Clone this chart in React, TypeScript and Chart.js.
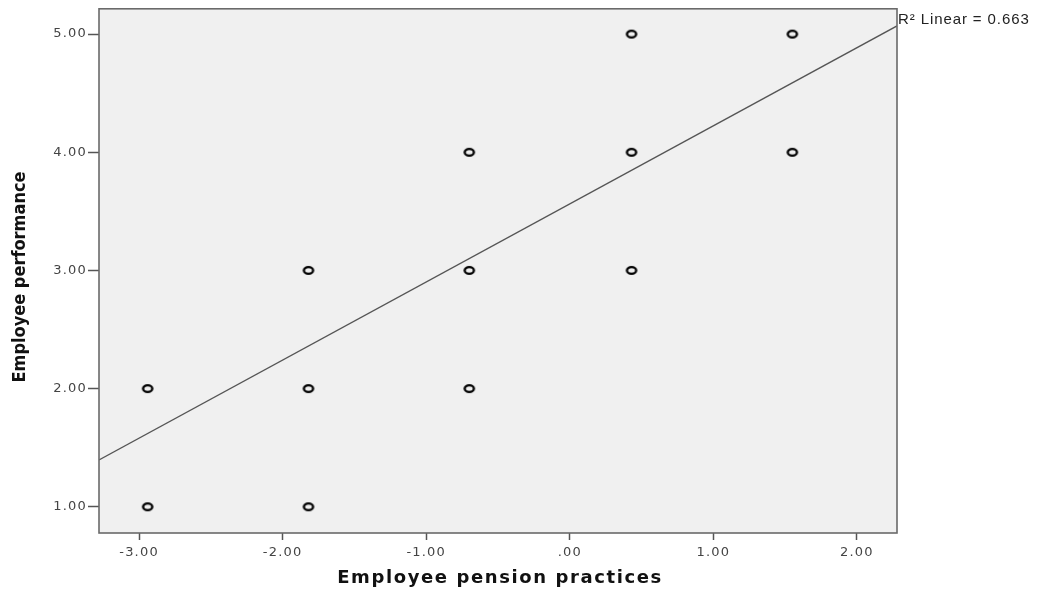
import React, { useEffect, useRef } from "react";
import { Chart, registerables } from "chart.js";

Chart.register(...registerables);

// Data (standardized pension practice score vs performance rating)
const pensionX: number[] = [-2.94, -2.94, -1.82, -1.82, -1.82, -0.70, -0.70, -0.70, 0.43, 0.43, 0.43, 1.55, 1.55];
const performanceY: number[] = [2, 1, 3, 2, 1, 4, 3, 2, 5, 4, 3, 5, 4];
const xTicks: number[] = [-3, -2, -1, 0, 1, 2];
const yTicks: number[] = [1, 2, 3, 4, 5];
const X_MIN = -3.279;
const X_MAX = 2.279;
const Y_MIN = 0.778;
const Y_MAX = 5.214;
const FIT_INTERCEPT = 3.563;
const FIT_SLOPE = 0.661;
const R2_LABEL = "R² Linear = 0.663";
const X_TITLE = "Employee pension practices";
const Y_TITLE = "Employee performance";

function fmt(v: number): string {
  const s = Math.abs(v).toFixed(2);
  const t = s.startsWith("0") ? s.slice(1) : s;
  return (v < 0 ? "-" : "") + t;
}

function makeMarker(): HTMLCanvasElement {
  const c = document.createElement("canvas");
  c.width = 14;
  c.height = 11;
  const ctx = c.getContext("2d")!;
  ctx.strokeStyle = "#000";
  ctx.lineWidth = 2.4;
  ctx.beginPath();
  ctx.ellipse(7, 5.5, 4.6, 3.4, 0, 0, Math.PI * 2);
  ctx.stroke();
  return c;
}

export default function App() {
  const ref = useRef<HTMLCanvasElement | null>(null);

  useEffect(() => {
    if (!ref.current) return;
    const marker = makeMarker();
    const points = pensionX.map((x, i) => ({ x, y: performanceY[i] }));
    const fitLine = [
      { x: X_MIN, y: FIT_INTERCEPT + FIT_SLOPE * X_MIN },
      { x: X_MAX, y: FIT_INTERCEPT + FIT_SLOPE * X_MAX },
    ];

    const decor = {
      id: "decor",
      beforeDraw(chart: any) {
        (chart.ctx as any).letterSpacing = "1.2px";
      },
      beforeDatasetsDraw(chart: any) {
        const { ctx, chartArea: a } = chart;
        ctx.save();
        ctx.fillStyle = "#f0f0f0";
        ctx.fillRect(a.left, a.top, a.right - a.left, a.bottom - a.top);
        ctx.restore();
      },
      afterDraw(chart: any) {
        const { ctx, chartArea: a } = chart;
        ctx.save();
        ctx.strokeStyle = "#6a6a6a";
        ctx.lineWidth = 1.6;
        ctx.strokeRect(a.left, a.top, a.right - a.left, a.bottom - a.top);

        // R² label
        ctx.fillStyle = "#222";
        ctx.font = "15px 'Liberation Sans', Arial, sans-serif";
        (ctx as any).letterSpacing = "0.9px";
        ctx.textAlign = "left";
        ctx.textBaseline = "middle";
        ctx.fillText(R2_LABEL, a.right + 1, 20);

        // X title
        ctx.font = "bold 18px 'DejaVu Sans', Verdana, sans-serif";
        (ctx as any).letterSpacing = "1.6px";
        ctx.textAlign = "center";
        ctx.fillStyle = "#111";
        ctx.fillText(X_TITLE, 500, 578);

        // Y title
        (ctx as any).letterSpacing = "0px";
        ctx.translate(20, 277);
        ctx.rotate(-Math.PI / 2);
        ctx.font = "bold 18px 'Liberation Sans Narrow', 'DejaVu Sans Condensed', sans-serif";
        ctx.fillText(Y_TITLE, 0, 0);
        ctx.restore();
        (ctx as any).letterSpacing = "0px";
      },
    };

    const chart = new Chart(ref.current, {
      type: "scatter",
      data: {
        datasets: [
          {
            label: "obs",
            data: points,
            pointStyle: marker as any,
            pointRadius: 6,
            showLine: false,
          },
          {
            label: "fit",
            data: fitLine,
            showLine: true,
            borderColor: "#555",
            borderWidth: 1.3,
            pointRadius: 0,
            fill: false,
          } as any,
        ],
      },
      options: {
        animation: false,
        responsive: true,
        maintainAspectRatio: false,
        layout: { padding: { top: 8, right: 150, left: 0, bottom: 0 } },
        plugins: {
          legend: { display: false },
          tooltip: { enabled: false },
        },
        scales: {
          x: {
            type: "linear",
            min: X_MIN,
            max: X_MAX,
            afterBuildTicks: (s: any) => {
              s.ticks = xTicks.map((v) => ({ value: v }));
            },
            afterFit: (s: any) => {
              s.height = 59;
            },
            grid: {
              drawOnChartArea: false,
              drawTicks: true,
              tickLength: 7,
              tickColor: "#555",
              tickWidth: 1.5,
            },
            border: { display: false },
            ticks: {
              callback: (v: any) => fmt(Number(v)),
              color: "#444",
              font: { family: "'DejaVu Sans', Verdana, sans-serif", size: 13 },
              padding: 5,
              maxRotation: 0,
            },
          },
          y: {
            type: "linear",
            min: Y_MIN,
            max: Y_MAX,
            afterBuildTicks: (s: any) => {
              s.ticks = yTicks.map((v) => ({ value: v }));
            },
            afterFit: (s: any) => {
              s.width = 99;
            },
            grid: {
              drawOnChartArea: false,
              drawTicks: true,
              tickLength: 11,
              tickColor: "#555",
              tickWidth: 1.5,
            },
            border: { display: false },
            ticks: {
              callback: (v: any) => fmt(Number(v)),
              color: "#444",
              font: { family: "'DejaVu Sans', Verdana, sans-serif", size: 13 },
              padding: 1,
            },
          },
        },
      },
      plugins: [decor],
    });

    return () => chart.destroy();
  }, []);

  return (
    <div style={{ position: "fixed", left: 0, top: 0, width: 1047, height: 592, background: "#fff" }}>
      <canvas ref={ref} />
    </div>
  );
}
